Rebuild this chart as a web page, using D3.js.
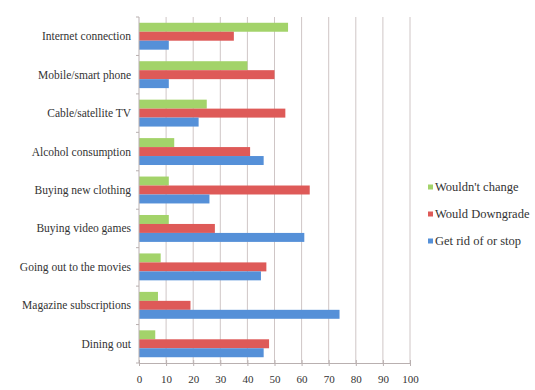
<!DOCTYPE html>
<html><head><meta charset="utf-8">
<script src="https://cdn.jsdelivr.net/npm/d3@7"></script>
<style>body{margin:0;background:#fff}svg{display:block}</style>
</head><body>
<svg id="c" width="535" height="390"></svg>
<script>
const categories = ["Internet connection","Mobile/smart phone","Cable/satellite TV","Alcohol consumption","Buying new clothing","Buying video games","Going out to the movies","Magazine subscriptions","Dining out"];
const seriesNames = ["Wouldn't change","Would Downgrade","Get rid of or stop"];
const wouldntChange = [55,40,25,13,11,11,8,7,6];
const wouldDowngrade = [35,50,54,41,63,28,47,19,48];
const getRid = [11,11,22,46,26,61,45,74,46];
const xTicks = [0,10,20,30,40,50,60,70,80,90,100];
const colors = ["#a3d36a","#de5a58","#5590d8"];

const series = [wouldntChange, wouldDowngrade, getRid];
const svg = d3.select("#c");
const L = 139, R = 410, T = 17, B = 363;
const x = d3.scaleLinear().domain([0,100]).range([L,R]);
const y = d3.scaleBand().domain(categories).range([T,B]).paddingInner(0.3).paddingOuter(0.15);
const y1 = d3.scaleBand().domain(seriesNames).range([0,y.bandwidth()]);
const font = "'Liberation Serif', 'Times New Roman', serif";

// gridlines
svg.append("g").selectAll("line").data(xTicks.slice(1)).join("line")
  .attr("x1",d=>x(d)).attr("x2",d=>x(d)).attr("y1",T).attr("y2",B)
  .attr("stroke","#cfc6c6").attr("stroke-width",1);

// bars
const g = svg.append("g");
categories.forEach((c,i)=>{
  series.forEach((s,j)=>{
    g.append("rect").attr("x",x(0)).attr("y",y(c)+y1(seriesNames[j]))
      .attr("width",x(s[i])-x(0)).attr("height",y1.bandwidth())
      .attr("fill",colors[j]);
  });
});

// x axis
const xa = svg.append("g").attr("transform",`translate(0,${B})`)
  .call(d3.axisBottom(x).tickValues(xTicks).tickSize(4).tickSizeOuter(0).tickPadding(8));
xa.select(".domain").attr("stroke","#b9b0b0");
xa.selectAll(".tick line").attr("stroke","#b9b0b0").attr("y1",-3).attr("y2",3);
xa.selectAll("text").attr("font-family",font).attr("font-size",11).attr("fill","#333");

// y axis line with boundary ticks
svg.append("line").attr("x1",L).attr("x2",L).attr("y1",T).attr("y2",B).attr("stroke","#b9b0b0");
const step = (B-T)/categories.length;
svg.append("g").selectAll("line").data(d3.range(categories.length+1)).join("line")
  .attr("x1",L-3).attr("x2",L).attr("y1",d=>T+d*step).attr("y2",d=>T+d*step).attr("stroke","#b9b0b0");

// category labels
svg.append("g").selectAll("text").data(categories).join("text")
  .attr("x",131).attr("y",d=>y(d)+y.bandwidth()/2).attr("dy","0.35em")
  .attr("text-anchor","end").attr("font-family",font).attr("font-size",11.5).attr("fill","#333")
  .text(d=>d);

// legend
const lg = svg.append("g");
seriesNames.forEach((n,j)=>{
  const ly = 187 + j*27;
  lg.append("rect").attr("x",428).attr("y",ly-2.5).attr("width",5).attr("height",5).attr("fill",colors[j]);
  lg.append("text").attr("x",435).attr("y",ly).attr("dy","0.35em")
    .attr("font-family",font).attr("font-size",12.5).attr("fill","#333").text(n);
});
</script>
</body></html>
